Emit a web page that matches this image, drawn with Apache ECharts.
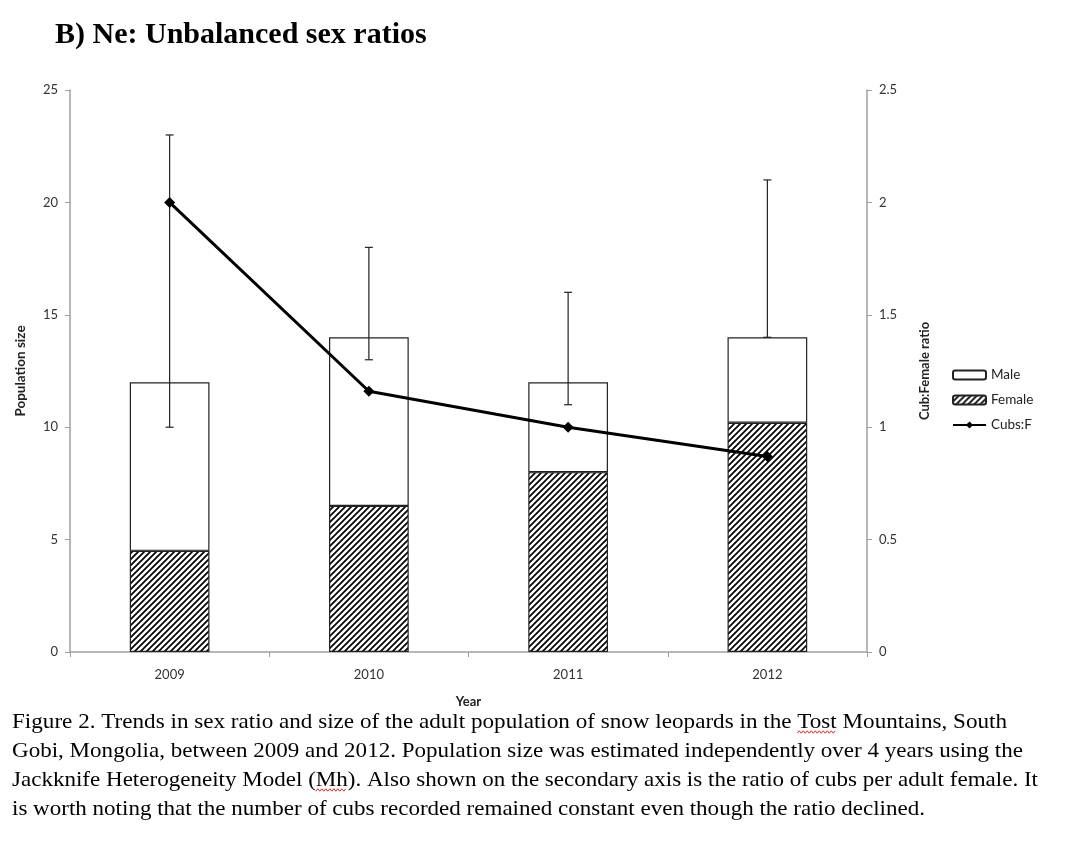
<!DOCTYPE html>
<html>
<head>
<meta charset="utf-8">
<script src="https://cdn.jsdelivr.net/npm/echarts@6/dist/echarts.min.js"></script>
<style>
html,body{margin:0;padding:0;background:#fff;}
#chart{width:1092px;height:862px;}
</style>
</head>
<body>
<div id="chart"></div>
<script>
// ---- data ----
const years = ['2009', '2010', '2011', '2012'];
const femaleSize = [4.5, 6.5, 8, 10.2];
const maleSize = [7.5, 7.5, 4, 3.8];          // stacked on female -> totals 12, 14, 12, 14
const totalLow = [10, 13, 11, 14];
const totalHigh = [23, 18, 16, 21];
const cubsPerFemale = [2.0, 1.16, 1.0, 0.87];
const titleText = 'B) Ne: Unbalanced sex ratios';
const captionLines = [
  'Figure 2. Trends in sex ratio and size of the adult population of snow leopards in the Tost Mountains, South',
  'Gobi, Mongolia, between 2009 and 2012. Population size was estimated independently over 4 years using the',
  'Jackknife Heterogeneity Model (Mh). Also shown on the secondary axis is the ratio of cubs per adult female. It',
  'is worth noting that the number of cubs recorded remained constant even though the ratio declined.'
];

// hatch pattern
function makeHatch() {
  const s = 6;
  const c = document.createElement('canvas');
  c.width = s; c.height = s;
  const g = c.getContext('2d');
  g.fillStyle = '#fff'; g.fillRect(0, 0, s, s);
  g.strokeStyle = '#000'; g.lineWidth = 1.7;
  g.beginPath();
  g.moveTo(-1, s + 1); g.lineTo(s + 1, -1);
  g.moveTo(-1, 1); g.lineTo(1, -1);
  g.moveTo(s - 1, s + 1); g.lineTo(s + 1, s - 1);
  g.stroke();
  return c;
}
const hatch = makeHatch();

const chart = echarts.init(document.getElementById('chart'), null, {renderer: 'canvas'});

// caption layout via text measurement
const capFont = '22px "Liberation Serif"';
const mctx = document.createElement('canvas').getContext('2d');
mctx.font = capFont;
const capTargets = [995, 1011, 1026, 913];
const capX = 12, capY0 = 722, capDY = 29;
const graphics = [];
const scales = [];
captionLines.forEach(function (t, i) {
  const w = mctx.measureText(t).width;
  const sx = capTargets[i] / w;
  scales.push(sx);
  graphics.push({
    type: 'text', x: capX, y: capY0 + i * capDY, scaleX: sx,
    style: {text: t, font: capFont, fill: '#000', textVerticalAlign: 'middle'}
  });
});
function squiggle(lineIdx, prefix, word) {
  const sx = scales[lineIdx];
  const x0 = capX + mctx.measureText(prefix).width * sx;
  const w = mctx.measureText(word).width * sx;
  const y = capY0 + lineIdx * capDY + 10;
  const pts = [];
  let k = 0;
  for (let x = x0; x <= x0 + w; x += 2) { pts.push([x, y + (k % 2 ? -1.2 : 1.2)]); k++; }
  graphics.push({type: 'polyline', shape: {points: pts}, style: {stroke: '#e02020', lineWidth: 1, fill: null}});
}
squiggle(0, 'Figure 2. Trends in sex ratio and size of the adult population of snow leopards in the ', 'Tost');
squiggle(2, 'Jackknife Heterogeneity Model (', 'Mh');

const axisFont = 'Lato';
const option = {
  animation: false,
  backgroundColor: '#fff',
  title: {
    text: titleText, left: 50, top: 15,
    textStyle: {fontFamily: 'Liberation Serif', fontWeight: 'bold', fontSize: 30, color: '#000'}
  },
  legend: {
    orient: 'vertical', left: 947, top: 363, itemWidth: 33, itemHeight: 9, itemGap: 11,
    data: ['Male', 'Female', 'Cubs:F'],
    textStyle: {fontFamily: axisFont, fontSize: 13.5, color: '#222'}
  },
  grid: {left: 70, right: 225, top: 90, bottom: 210},
  xAxis: {
    type: 'category', data: years,
    name: 'Year', nameLocation: 'middle', nameGap: 43,
    nameTextStyle: {fontFamily: axisFont, fontWeight: 'bold', fontSize: 13, color: '#222'},
    axisLine: {lineStyle: {color: '#a0a0a0', width: 1.5}},
    axisTick: {show: true, length: 5, lineStyle: {color: '#a0a0a0'}},
    axisLabel: {fontFamily: axisFont, fontSize: 13, color: '#333', margin: 16}
  },
  yAxis: [
    {
      type: 'value', min: 0, max: 25, interval: 5,
      name: 'Population size', nameLocation: 'middle', nameGap: 42, nameRotate: 90,
      nameTextStyle: {fontFamily: axisFont, fontWeight: 'bold', fontSize: 13.5, color: '#222'},
      axisLine: {show: true, lineStyle: {color: '#a0a0a0', width: 1.5}},
      axisTick: {show: true, length: 5, lineStyle: {color: '#a0a0a0'}},
      splitLine: {show: false},
      axisLabel: {fontFamily: axisFont, fontSize: 13, color: '#333', margin: 12}
    },
    {
      type: 'value', min: 0, max: 2.5, interval: 0.5, position: 'right',
      name: 'Cub:Female ratio', nameLocation: 'middle', nameGap: 51, nameRotate: 90,
      nameTextStyle: {fontFamily: axisFont, fontWeight: 'bold', fontSize: 13, color: '#222'},
      axisLine: {show: true, lineStyle: {color: '#a0a0a0', width: 1.5}},
      axisTick: {show: true, length: 5, lineStyle: {color: '#a0a0a0'}},
      splitLine: {show: false},
      axisLabel: {fontFamily: axisFont, fontSize: 13, color: '#333', margin: 12}
    }
  ],
  series: [
    {
      name: 'Female', type: 'bar', stack: 'pop', data: femaleSize, barWidth: '40%',
      itemStyle: {color: {image: hatch, repeat: 'repeat'}, borderColor: '#222', borderWidth: 1.2},
      z: 2
    },
    {
      name: 'Male', type: 'bar', stack: 'pop', data: maleSize, barWidth: '40%',
      itemStyle: {color: '#fff', borderColor: '#222', borderWidth: 1.2},
      z: 2
    },
    {
      name: 'err', type: 'custom', yAxisIndex: 0, z: 4,
      data: years.map(function (y, i) { return [i, totalLow[i], totalHigh[i]]; }),
      encode: {x: 0, y: [1, 2]},
      renderItem: function (params, api) {
        const lo = api.coord([api.value(0), api.value(1)]);
        const hi = api.coord([api.value(0), api.value(2)]);
        const h = 4;
        const st = {stroke: '#222', lineWidth: 1.2};
        return {
          type: 'group', children: [
            {type: 'line', shape: {x1: lo[0], y1: lo[1], x2: hi[0], y2: hi[1]}, style: st},
            {type: 'line', shape: {x1: hi[0] - h, y1: hi[1], x2: hi[0] + h, y2: hi[1]}, style: st},
            {type: 'line', shape: {x1: lo[0] - h, y1: lo[1], x2: lo[0] + h, y2: lo[1]}, style: st}
          ]
        };
      }
    },
    {
      name: 'Cubs:F', type: 'line', yAxisIndex: 1, data: cubsPerFemale, z: 5,
      symbol: 'diamond', symbolSize: 11,
      lineStyle: {color: '#000', width: 3},
      itemStyle: {color: '#000'}
    }
  ],
  graphic: graphics
};
chart.setOption(option);
</script>
</body>
</html>
